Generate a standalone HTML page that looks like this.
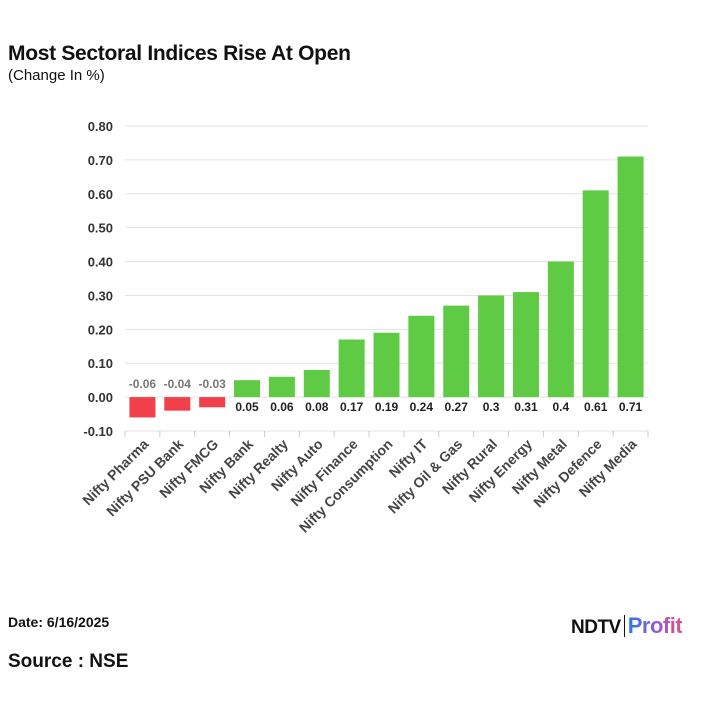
<!DOCTYPE html>
<html><head><meta charset="utf-8"><style>
body{margin:0;background:#fff;font-family:"Liberation Sans",Arial,sans-serif;}
#wrap{position:relative;width:720px;height:720px;overflow:hidden;}
.t{position:absolute;}
</style></head><body>
<div id="wrap">
<div class="t" style="left:8px;top:42px;font-size:21px;font-weight:bold;color:#111;letter-spacing:-0.3px">Most Sectoral Indices Rise At Open</div>
<div class="t" style="left:8px;top:67px;font-size:15px;color:#111">(Change In %)</div>
<svg id="chart" width="720" height="600" style="position:absolute;left:0;top:0"></svg>
<div class="t" style="left:8px;top:614px;font-size:14px;font-weight:bold;color:#111">Date: 6/16/2025</div>
<div class="t" style="left:8px;top:651px;font-size:19px;font-weight:bold;color:#111">Source : NSE</div>
<div class="t" style="left:571px;top:613px;font-size:19px;font-weight:900;color:#111;letter-spacing:-0.5px;white-space:nowrap">NDTV<span style="display:inline-block;width:1px;height:22px;background:#111;margin:0 3px;vertical-align:-4px"></span><span style="font-size:22px;background:linear-gradient(90deg,#2a7be4,#8a5ce0,#e0508a);-webkit-background-clip:text;background-clip:text;color:transparent">Profit</span></div>
</div>
<script>
const categories=["Nifty Pharma","Nifty PSU Bank","Nifty FMCG","Nifty Bank","Nifty Realty","Nifty Auto","Nifty Finance","Nifty Consumption","Nifty IT","Nifty Oil & Gas","Nifty Rural","Nifty Energy","Nifty Metal","Nifty Defence","Nifty Media"];
const values=[-0.06,-0.04,-0.03,0.05,0.06,0.08,0.17,0.19,0.24,0.27,0.3,0.31,0.4,0.61,0.71];
const valueLabels=["-0.06","-0.04","-0.03","0.05","0.06","0.08","0.17","0.19","0.24","0.27","0.3","0.31","0.4","0.61","0.71"];
const yTicks=[-0.1,0,0.1,0.2,0.3,0.4,0.5,0.6,0.7,0.8];
const yTickLabels=["-0.10","0.00","0.10","0.20","0.30","0.40","0.50","0.60","0.70","0.80"];
const svg=document.getElementById('chart');
const NS='http://www.w3.org/2000/svg';
const X0=125,X1=648,Y0=431,Y1=126,YMIN=-0.1,YMAX=0.8;
const y=v=>Y0-(v-YMIN)/(YMAX-YMIN)*(Y0-Y1);
const bw=(X1-X0)/categories.length;
const x=i=>X0+i*bw;
function mk(t,a){const e=document.createElementNS(NS,t);for(const k in a)e.setAttribute(k,a[k]);svg.appendChild(e);return e;}
yTicks.forEach((v,i)=>{
 const g=mk('line',{x1:X0,x2:X1,y1:y(v),y2:y(v),stroke:'#e3e3e3','stroke-width':1});
 
 
 const t=mk('text',{x:113,y:y(v)+5,'text-anchor':'end','font-size':13,'font-weight':'bold',fill:'#333'});
 t.textContent=yTickLabels[i];
 
 
});
for(let i=0;i<=categories.length;i++){
 const tk=mk('line',{x1:x(i),x2:x(i),y1:Y0,y2:Y0+6,stroke:'#ccc','stroke-width':1});
 
 
}
categories.forEach((c,i)=>{
 const v=values[i],cx=x(i)+bw/2,w=26;
 const top=Math.min(y(v),y(0)),h=Math.abs(y(v)-y(0));
 const r=mk('rect',{x:cx-w/2,y:top,width:w,height:h,fill:v<0?'#f2404a':'#5fcb45'});
 
 
 const lt=mk('text',{x:cx,y:v<0?y(0)-9:y(0)+14,'text-anchor':'middle','font-size':12,'font-weight':'bold',fill:v<0?'#777':'#222'});
 lt.textContent=valueLabels[i];
 
 
 const ct=mk('text',{x:cx+7,y:Y0+14,'text-anchor':'end','font-size':14,'font-weight':'bold',fill:'#444',transform:`rotate(-45 ${cx+7} ${Y0+14})`});
 ct.textContent=c;
 
 
});
</script>
</body></html>
